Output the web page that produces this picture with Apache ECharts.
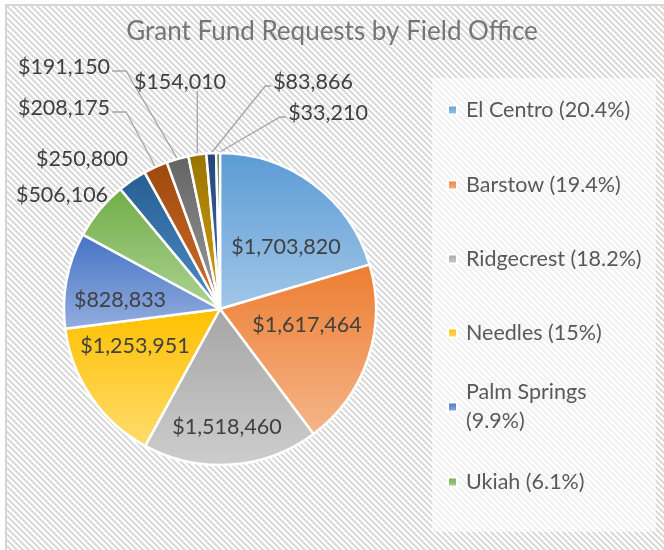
<!DOCTYPE html>
<html><head><meta charset="utf-8">
<script src="https://cdn.jsdelivr.net/npm/echarts@6/dist/echarts.min.js"></script>
<style>html,body{margin:0;padding:0;background:#fff}#c{width:664px;height:550px}</style>
</head><body><div id="c"></div>
<script>
// ---- data ----
const titleText = 'Grant Fund Requests by Field Office';
const categories = ['El Centro', 'Barstow', 'Ridgecrest', 'Needles', 'Palm Springs', 'Ukiah',
  'Office 7', 'Office 8', 'Office 9', 'Office 10', 'Office 11', 'Office 12'];
const values = [1703820, 1617464, 1518460, 1253951, 828833, 506106,
  250800, 208175, 191150, 154010, 83866, 33210];
const legendCount = 6;

// ---- styles / layout ----
const baseColors = ['#5B9BD5', '#ED7D31', '#A5A5A5', '#FFC000', '#4472C4', '#70AD47',
  '#255E91', '#9E480E', '#636363', '#997300', '#264478', '#43682B'];
const lightColors = ['#A2C7E8', '#F5B58A', '#CDCDCD', '#FFDC6E', '#94AEDF', '#ADD393',
  '#4F8CC9', '#D0702C', '#9C9C9C', '#D4A312', '#4A6FB0', '#6E9E4A'];
const labelCenters = [[286, 247], [307, 325], [227, 427], [135, 346], [120, 300], [62, 195],
  [82, 159], [64, 108], [64, 67], [180, 82], [313, 82], [328, 113]];
const insideCount = 5;
const lineFrom = 7;
const legendIconY = [110, 185, 259, 333, 407, 482];
const FONT = 'Lato, "Open Sans", sans-serif';

const total = values.reduce((a, b) => a + b, 0);
function fmtMoney(v) { return '$' + v.toLocaleString('en-US'); }
function fmtPct(v) { return String(parseFloat((v / total * 100).toFixed(1))); }

// hatch pattern
const pc = document.createElement('canvas');
pc.width = 6; pc.height = 6;
const pctx = pc.getContext('2d');
pctx.fillStyle = '#ffffff'; pctx.fillRect(0, 0, 6, 6);
pctx.fillStyle = '#dcdcdc';
for (let y = 0; y < 6; y++) for (let x = 0; x < 6; x++) {
  if ((((x - y) % 6) + 6) % 6 < 3) pctx.fillRect(x, y, 1, 1);
}

const chart = echarts.init(document.getElementById('c'), null, { renderer: 'canvas' });

const data = values.map((v, i) => ({
  name: categories[i],
  value: v,
  itemStyle: {
    color: new echarts.graphic.LinearGradient(0, 0, 0, 1, [
      { offset: 0, color: baseColors[i] }, { offset: 1, color: lightColors[i] }])
  },
  label: { position: i < insideCount ? 'inside' : 'outside' },
  labelLine: { show: i >= lineFrom }
}));

const legends = categories.slice(0, legendCount).map((name, i) => {
  const txt = name + ' (' + fmtPct(values[i]) + '%)';
  const two = txt.length > 18;
  const lh = two ? 29 : 26;
  const blockH = two ? lh * 3 : lh;
  return {
    data: [name],
    orient: 'vertical',
    left: 447,
    top: legendIconY[i] - blockH / 2,
    padding: 0,
    icon: 'rect',
    itemWidth: 9,
    itemHeight: 9,
    selectedMode: false,
    formatter: () => two ? txt.replace(' (', '\n(') : txt,
    textStyle: {
      fontFamily: FONT, fontSize: 21.5, color: '#595959', lineHeight: lh,
      padding: two ? [lh, 0, 0, 4] : [0, 0, 0, 4]
    }
  };
});

chart.setOption({
  animation: false,
  backgroundColor: '#ffffff',
  title: {
    text: titleText,
    left: 'center',
    top: 14,
    padding: [5, 0, 5, 28],
    textStyle: { fontFamily: FONT, fontSize: 26, fontWeight: 'normal', color: '#757575' }
  },
  graphic: [
    { type: 'rect', z: -10, shape: { x: 6, y: 5, width: 680, height: 580 },
      style: { fill: { image: pc, repeat: 'repeat' }, stroke: '#d6d6d6', lineWidth: 2 }, silent: true },
    { type: 'rect', z: -9, shape: { x: 432, y: 78, width: 224, height: 454 },
      style: { fill: 'rgba(255,255,255,0.6)' }, silent: true }
  ],
  legend: legends,
  series: [{
    type: 'pie',
    center: [220, 309],
    radius: 156,
    startAngle: 90,
    clockwise: true,
    avoidLabelOverlap: false,
    emphasis: { disabled: true },
    itemStyle: { borderColor: '#ffffff', borderWidth: 2.5 },
    label: {
      show: true,
      formatter: p => fmtMoney(p.value),
      fontFamily: FONT, fontSize: 21.5, color: '#404040'
    },
    labelLine: { show: false, length: 10, length2: 10, lineStyle: { color: '#a6a6a6', width: 1.3 } },
    labelLayout: function (p) {
      const i = p.dataIndex;
      const c = labelCenters[i];
      const w = p.labelRect.width, h = p.labelRect.height;
      const res = { x: c[0], y: c[1], align: 'center', verticalAlign: 'middle', hideOverlap: false };
      if (i >= lineFrom && p.labelLinePoints) {
        const a = p.labelLinePoints[0];
        const left = c[0] - w / 2, right = c[0] + w / 2, bottom = c[1] + h / 2;
        let pts;
        if (a[0] >= left && a[0] <= right) pts = [a, [a[0], bottom - 2], [a[0], bottom - 2]];
        else if (a[0] > right) pts = [a, [right + 16, c[1] + 4], [right + 2, c[1] + 4]];
        else pts = [a, [left - 8, c[1] + 4], [left - 2, c[1] + 4]];
        res.labelLinePoints = pts;
      }
      return res;
    },
    data: data
  }]
});
</script>
</body></html>
